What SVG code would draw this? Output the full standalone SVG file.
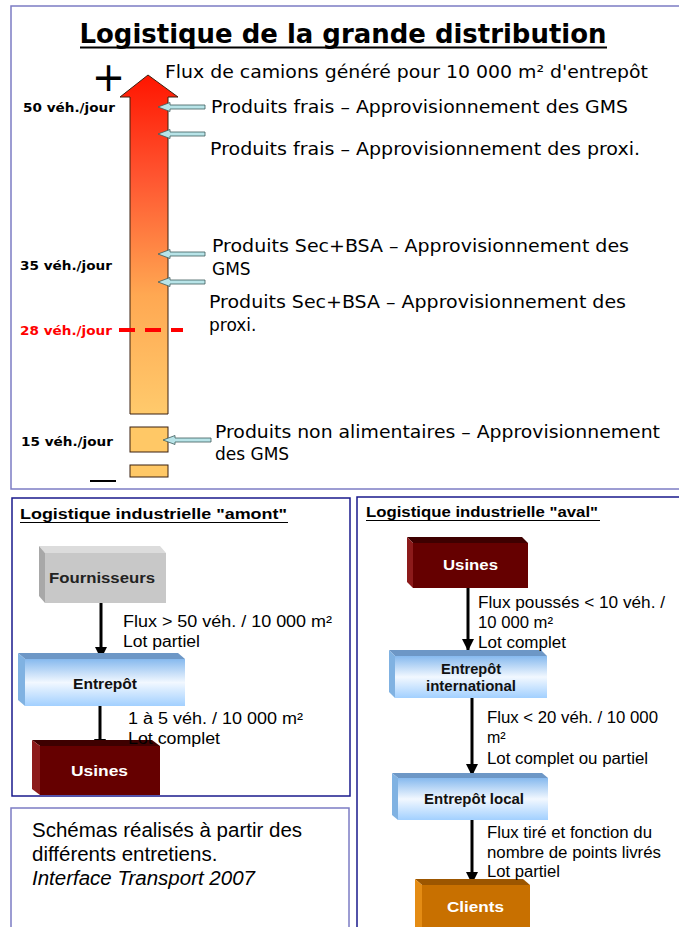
<svg xmlns="http://www.w3.org/2000/svg" width="679" height="927" viewBox="0 0 679 927">
<defs>
<linearGradient id="bigArrow" gradientUnits="userSpaceOnUse" x1="0" y1="75" x2="0" y2="414">
<stop offset="0" stop-color="#ff1500"/>
<stop offset="0.3" stop-color="#ff5530"/>
<stop offset="0.65" stop-color="#ffa852"/>
<stop offset="1" stop-color="#ffca6c"/>
</linearGradient>
<linearGradient id="blueFront" x1="0" y1="0" x2="0" y2="1">
<stop offset="0" stop-color="#86b9ee"/>
<stop offset="0.5" stop-color="#f2f8ff"/>
<stop offset="1" stop-color="#a2d0ff"/>
</linearGradient>
<marker id="ah" viewBox="0 0 10 10" refX="10" refY="5" markerWidth="4" markerHeight="4.5" orient="auto" markerUnits="strokeWidth">
<path d="M0,0 L10,5 L0,10 Z" fill="#000"/>
</marker>
<style>
.v{font-family:"DejaVu Sans",Verdana,sans-serif;fill:#000}
.vb{font-family:"DejaVu Sans",Verdana,sans-serif;font-weight:bold;font-size:12.5px;fill:#000}
.a{font-family:"Liberation Sans",Arial,sans-serif;fill:#000}
.ab{font-family:"Liberation Sans",Arial,sans-serif;font-weight:bold}
.lbl{font-size:17px}
.flow{font-size:16px}
.sm{fill:#b8e4e8;stroke:#3c5a5a;stroke-width:0.8}
.conn{stroke:#000;stroke-width:3;fill:none;marker-end:url(#ah)}
.panelL{fill:none;stroke:#7c7cc4;stroke-width:1.5}
.panelD{fill:none;stroke:#1a1a8c;stroke-width:1.5}
</style>
</defs>
<rect width="679" height="927" fill="#fff"/>

<g id="panels">
<rect class="panelL" x="11" y="6" width="680" height="483"/>
<rect class="panelD" x="12" y="498" width="338" height="298"/>
<rect class="panelL" x="11" y="808" width="338" height="130"/>
<rect class="panelD" x="357" y="497" width="330" height="440"/>
</g>

<g id="title">
<text class="v" x="343" y="43" font-size="27" font-weight="bold" text-anchor="middle" textLength="527" lengthAdjust="spacingAndGlyphs">Logistique de la grande distribution</text>
<line x1="80" y1="47.5" x2="607" y2="47.5" stroke="#000" stroke-width="2.2"/>
</g>

<g id="scale">
<polygon points="148,75 178,97 168,97 168,414 130,414 130,97 120,97" fill="url(#bigArrow)" stroke="#3a2010" stroke-width="1"/>
<rect x="130" y="427" width="38" height="25" fill="#ffc866" stroke="#3a2010" stroke-width="1"/>
<rect x="130" y="465" width="38" height="12" fill="#ffc866" stroke="#3a2010" stroke-width="1"/>
<text class="v" x="108.5" y="91" font-size="40" text-anchor="middle">+</text>
<line x1="90" y1="481" x2="116" y2="481" stroke="#000" stroke-width="2"/>
<line x1="119" y1="330" x2="183" y2="330" stroke="#ff0000" stroke-width="4" stroke-dasharray="16,10"/>
<text class="vb" x="23" y="112" textLength="92" lengthAdjust="spacingAndGlyphs">50 véh./jour</text>
<text class="vb" x="20" y="270" textLength="92" lengthAdjust="spacingAndGlyphs">35 véh./jour</text>
<text class="vb" x="20" y="335" textLength="92" lengthAdjust="spacingAndGlyphs" style="fill:#ff0000">28 véh./jour</text>
<text class="vb" x="21" y="446" textLength="92" lengthAdjust="spacingAndGlyphs">15 véh./jour</text>
</g>

<g id="pointers">
<polygon class="sm" points="158,107 170,102.5 170,105 205,105 205,109 170,109 170,111.5"/>
<polygon class="sm" points="158,134 170,129.5 170,132 205,132 205,136 170,136 170,138.5"/>
<polygon class="sm" points="158,254 170,249.5 170,252 205,252 205,256 170,256 170,258.5"/>
<polygon class="sm" points="158,282 170,277.5 170,280 205,280 205,284 170,284 170,286.5"/>
<polygon class="sm" points="163,440 175,435.5 175,438 211,438 211,442 175,442 175,444.5"/>
</g>

<g id="topLabels">
<text class="v lbl" x="165" y="78" textLength="483" lengthAdjust="spacingAndGlyphs">Flux de camions généré pour 10 000 m² d'entrepôt</text>
<text class="v lbl" x="211" y="113" textLength="417" lengthAdjust="spacingAndGlyphs">Produits frais – Approvisionnement des GMS</text>
<text class="v lbl" x="210" y="155" textLength="430" lengthAdjust="spacingAndGlyphs">Produits frais – Approvisionnement des proxi.</text>
<text class="v lbl" x="212" y="252" textLength="417" lengthAdjust="spacingAndGlyphs">Produits Sec+BSA – Approvisionnement des</text>
<text class="v lbl" x="212" y="275">GMS</text>
<text class="v lbl" x="209" y="308" textLength="417" lengthAdjust="spacingAndGlyphs">Produits Sec+BSA – Approvisionnement des</text>
<text class="v lbl" x="209" y="331">proxi.</text>
<text class="v lbl" x="215" y="438" textLength="445" lengthAdjust="spacingAndGlyphs">Produits non alimentaires – Approvisionnement</text>
<text class="v lbl" x="215" y="460">des GMS</text>
</g>

<g id="amontTitle">
<text class="ab" x="20" y="519" font-size="14" textLength="267" lengthAdjust="spacingAndGlyphs">Logistique industrielle "amont"</text>
<line x1="20" y1="522.5" x2="288" y2="522.5" stroke="#000" stroke-width="1.2"/>
</g>

<g id="connectors">
<line class="conn" x1="101" y1="596" x2="101" y2="659"/>
<line class="conn" x1="100" y1="706" x2="100" y2="751"/>
<line class="conn" x1="468" y1="588" x2="468" y2="651"/>
<line class="conn" x1="472" y1="698" x2="472" y2="776"/>
<line class="conn" x1="472" y1="820" x2="472" y2="884"/>
</g>

<g id="fournisseurs">
<polygon points="39,546 160,546 166,553 45,553" fill="#dcdcdc"/>
<polygon points="39,546 45,553 45,603 39,596" fill="#a8a8a8"/>
<rect x="45" y="553" width="121" height="50" fill="#c8c8c8"/>
<text class="ab" x="49" y="583" font-size="14.5" textLength="106" lengthAdjust="spacingAndGlyphs" fill="#222">Fournisseurs</text>
</g>

<g id="entrepot">
<polygon points="18,653 178,653 185,659 25,659" fill="#6d97c6"/>
<polygon points="18,653 25,659 25,706 18,700" fill="#80b2e2"/>
<rect x="25" y="659" width="160" height="47" fill="url(#blueFront)"/>
<text class="ab" x="73" y="689" font-size="14" textLength="64" lengthAdjust="spacingAndGlyphs" fill="#111">Entrepôt</text>
</g>

<g id="usinesAmont">
<polygon points="32,740 152,740 160,746 40,746" fill="#3e0000"/>
<polygon points="32,740 40,746 40,795 32,789" fill="#8c1a1a"/>
<rect x="40" y="746" width="120" height="49" fill="#650000"/>
<text class="ab" x="71" y="776" font-size="15" textLength="57" lengthAdjust="spacingAndGlyphs" fill="#fff">Usines</text>
</g>

<g id="amontLabels">
<text class="a flow" x="123" y="627" textLength="209" lengthAdjust="spacingAndGlyphs">Flux &gt; 50 véh. / 10 000 m²</text>
<text class="a flow" x="123" y="647" textLength="77" lengthAdjust="spacingAndGlyphs">Lot partiel</text>
<text class="a flow" x="128" y="724" textLength="175" lengthAdjust="spacingAndGlyphs">1 à 5 véh. / 10 000 m²</text>
<text class="a flow" x="128" y="744" textLength="92" lengthAdjust="spacingAndGlyphs">Lot complet</text>
</g>

<g id="note">
<text class="a" x="32" y="837" font-size="20.5">Schémas réalisés à partir des</text>
<text class="a" x="32" y="861" font-size="20.5">différents entretiens.</text>
<text class="a" x="32" y="885" font-size="20.5" font-style="italic">Interface Transport 2007</text>
</g>

<g id="avalTitle">
<text class="ab" x="366" y="517" font-size="14" textLength="232" lengthAdjust="spacingAndGlyphs">Logistique industrielle "aval"</text>
<line x1="366" y1="520.5" x2="600" y2="520.5" stroke="#000" stroke-width="1.2"/>
</g>

<g id="usinesAval">
<polygon points="407,537 522,537 528,543 413,543" fill="#3e0000"/>
<polygon points="407,537 413,543 413,588 407,582" fill="#8c1a1a"/>
<rect x="413" y="543" width="115" height="45" fill="#650000"/>
<text class="ab" x="443" y="570" font-size="15" textLength="55" lengthAdjust="spacingAndGlyphs" fill="#fff">Usines</text>
</g>

<g id="entrepotInternational">
<polygon points="389,650 541,650 547,656 395,656" fill="#6d97c6"/>
<polygon points="389,650 395,656 395,698 389,692" fill="#80b2e2"/>
<rect x="395" y="656" width="152" height="42" fill="url(#blueFront)"/>
<text class="ab" x="441" y="674" font-size="14" textLength="60" lengthAdjust="spacingAndGlyphs" fill="#111">Entrepôt</text>
<text class="ab" x="426" y="691" font-size="14" textLength="90" lengthAdjust="spacingAndGlyphs" fill="#111">international</text>
</g>

<g id="entrepotLocal">
<polygon points="392,773 542,773 548,778 398,778" fill="#6d97c6"/>
<polygon points="392,773 398,778 398,820 392,815" fill="#80b2e2"/>
<rect x="398" y="778" width="150" height="42" fill="url(#blueFront)"/>
<text class="ab" x="424" y="804" font-size="14" textLength="100" lengthAdjust="spacingAndGlyphs" fill="#111">Entrepôt local</text>
</g>

<g id="clients">
<polygon points="415,879 523,879 530,885 422,885" fill="#9c5600"/>
<polygon points="415,879 422,885 422,935 415,929" fill="#e48c14"/>
<rect x="422" y="885" width="108" height="50" fill="#c87000"/>
<text class="ab" x="447" y="912" font-size="15" textLength="57" lengthAdjust="spacingAndGlyphs" fill="#fff">Clients</text>
</g>

<g id="avalLabels">
<text class="a flow" x="478" y="608" textLength="187" lengthAdjust="spacingAndGlyphs">Flux poussés &lt; 10 véh. /</text>
<text class="a flow" x="478" y="628" textLength="75" lengthAdjust="spacingAndGlyphs">10 000 m²</text>
<text class="a flow" x="478" y="648" textLength="88" lengthAdjust="spacingAndGlyphs">Lot complet</text>
<text class="a flow" x="487" y="723" textLength="171" lengthAdjust="spacingAndGlyphs">Flux &lt; 20 véh. / 10 000</text>
<text class="a flow" x="487" y="743">m²</text>
<text class="a flow" x="487" y="764" textLength="161" lengthAdjust="spacingAndGlyphs">Lot complet ou partiel</text>
<text class="a flow" x="487" y="838" textLength="165" lengthAdjust="spacingAndGlyphs">Flux tiré et fonction du</text>
<text class="a flow" x="487" y="858" textLength="174" lengthAdjust="spacingAndGlyphs">nombre de points livrés</text>
<text class="a flow" x="487" y="877" textLength="73" lengthAdjust="spacingAndGlyphs">Lot partiel</text>
</g>
</svg>
